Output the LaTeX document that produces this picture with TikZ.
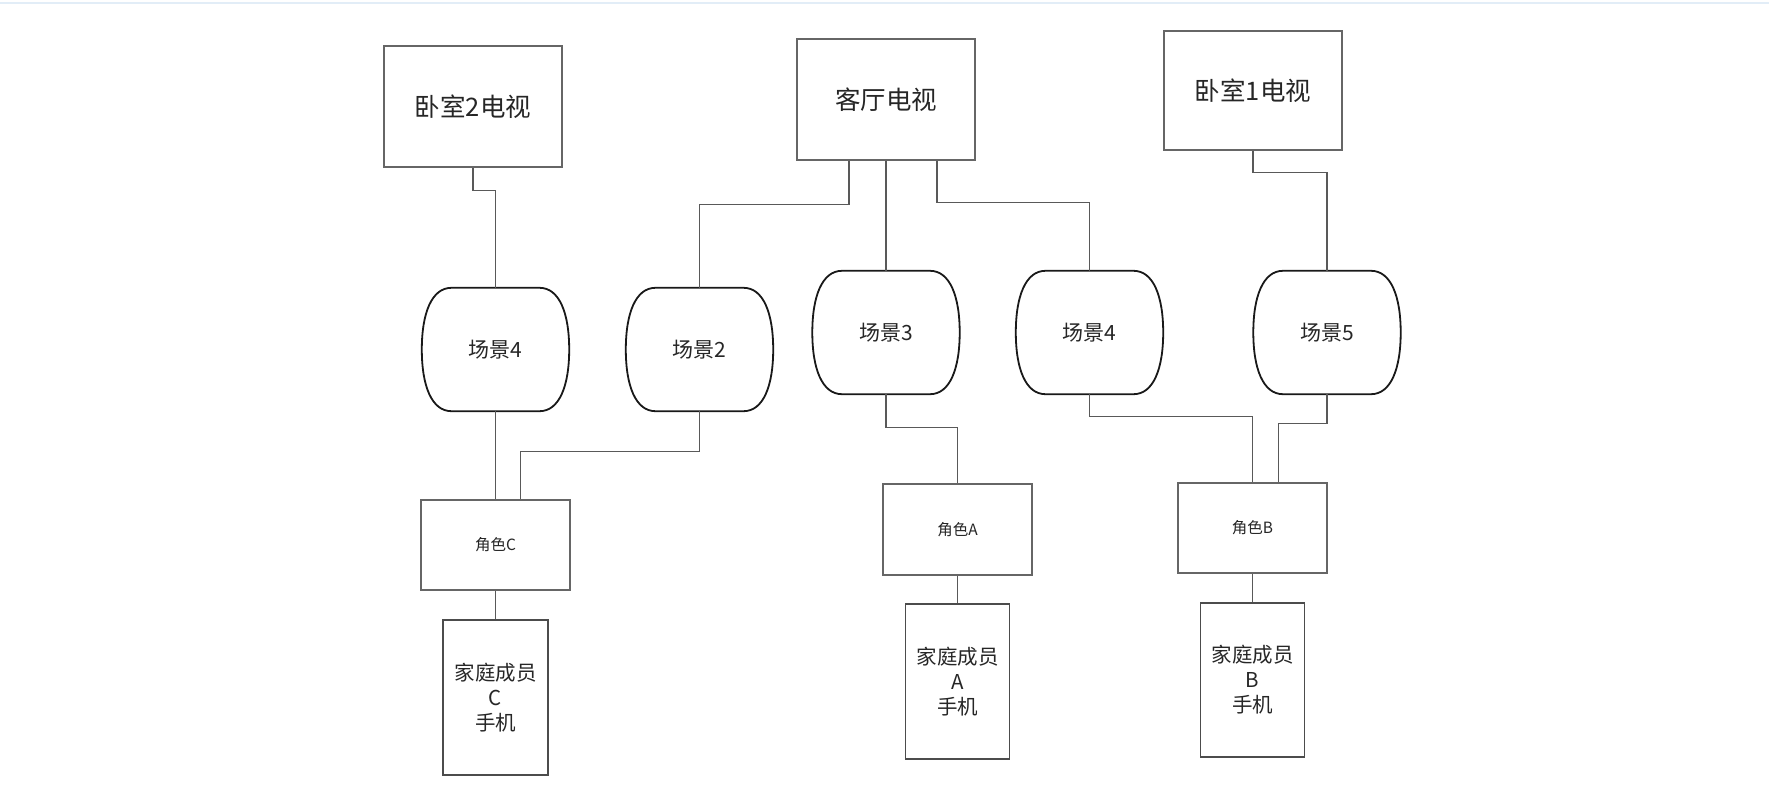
\documentclass[tikz,border=0pt]{standalone}
\usepackage{fontspec}
\newfontfamily\cjk{Noto Sans CJK SC}
\usetikzlibrary{positioning}
\definecolor{topline}{RGB}{226,237,247}

\begin{document}
\begin{tikzpicture}[x=1pt,y=-1pt,node distance=152pt]
\tikzstyle{tvbox}=[rectangle, draw=black!60, line width=1.2pt, inner sep=0pt,
minimum width=178pt, minimum height=121pt, text=black!85,
font=\cjk\fontsize{25.5}{30}\selectfont]
\tikzstyle{scene}=[rectangle, inner sep=0pt, minimum width=147pt,
minimum height=123pt, text=black!85, font=\cjk\fontsize{21}{25}\selectfont]
\tikzstyle{barrel}=[draw=black!90, line width=1.8pt]
\tikzstyle{rolebox}=[rectangle, draw=black!60, line width=1.2pt, inner sep=0pt,
minimum width=149pt, minimum height=90pt, text=black!85,
font=\cjk\fontsize{15.5}{18}\selectfont]
\tikzstyle{phonebox}=[rectangle, draw=black!70, line width=1.2pt, inner sep=0pt,
minimum width=105pt, minimum height=155pt, align=center, text=black!85,
font=\cjk\fontsize{20.5}{25}\selectfont]
\tikzstyle{link}=[draw=black!65, line width=1.2pt]

\useasboundingbox (0,0) rectangle (1769,797);
\draw[topline, line width=2pt] (0,3) -- (1769,3);

%televisions
\node[tvbox] (B2TV) at (473,106.5) {卧室2电视};
\node[tvbox] (LTV) at (886,99.5) {客厅电视};
\node[tvbox, minimum height=119pt] (B1TV) at (1253,90.5) {卧室1电视};

%scenes
\node[scene] (S4a) at (495.5,349.5) {场景4};
\node[scene] (S2) [node distance=204pt, right of=S4a] {场景2};
\node[scene] (S3) at (886,332.5) {场景3};
\node[scene] (S4b) [node distance=203.5pt, right of=S3] {场景4};
\node[scene] (S5) [node distance=237.5pt, right of=S4b] {场景5};

\foreach \s in {S4a,S2,S3,S4b,S5}
  \path[barrel] ([xshift=-44pt]\s.north) -- ([xshift=44pt]\s.north)
    .. controls +(20,0) and +(0,-36) .. (\s.east)
    .. controls +(0,36) and +(20,0) .. ([xshift=44pt]\s.south)
    -- ([xshift=-44pt]\s.south)
    .. controls +(-20,0) and +(0,36) .. (\s.west)
    .. controls +(0,-36) and +(-20,0) .. ([xshift=-44pt]\s.north) -- cycle;

%roles and phones
\node[rolebox] (RC) at (495.5,545) {角色C};
\node[rolebox, minimum height=91pt] (RA) at (957.5,529.5) {角色A};
\node[rolebox] (RB) at (1252.5,528) {角色B};

\node[phonebox] (PC) [node distance=152.5pt, below of=RC] {家庭成员\\C\\手机};
\node[phonebox, minimum width=104pt] (PA) [below of=RA] {家庭成员\\A\\手机};
\node[phonebox, minimum width=104pt, minimum height=154pt] (PB) [below of=RB] {家庭成员\\B\\手机};

%tv to scene
\path[link] (B2TV.south) -- ++(0,23) -| (S4a.north);
\path[link] ([xshift=-37pt]LTV.south) -- ++(0,44) -| (S2.north);
\path[link] (LTV.south) -- (S3.north);
\path[link] ([xshift=51pt]LTV.south) -- ++(0,42) -| (S4b.north);
\path[link] (B1TV.south) -- ++(0,22) -| (S5.north);

%scene to role
\path[link] (S4a.south) -- (RC.north);
\path[link] (S2.south) -- ++(0,40) -| ([xshift=25pt]RC.north);
\path[link] (S3.south) -- ++(0,33) -| (RA.north);
\path[link] (S4b.south) -- ++(0,22) -| (RB.north);
\path[link] (S5.south) -- ++(0,29) -| ([xshift=26pt]RB.north);

%role to phone
\path[link] (RC) -- (PC);
\path[link] (RA) -- (PA);
\path[link] (RB) -- (PB);

\end{tikzpicture}
\end{document}
